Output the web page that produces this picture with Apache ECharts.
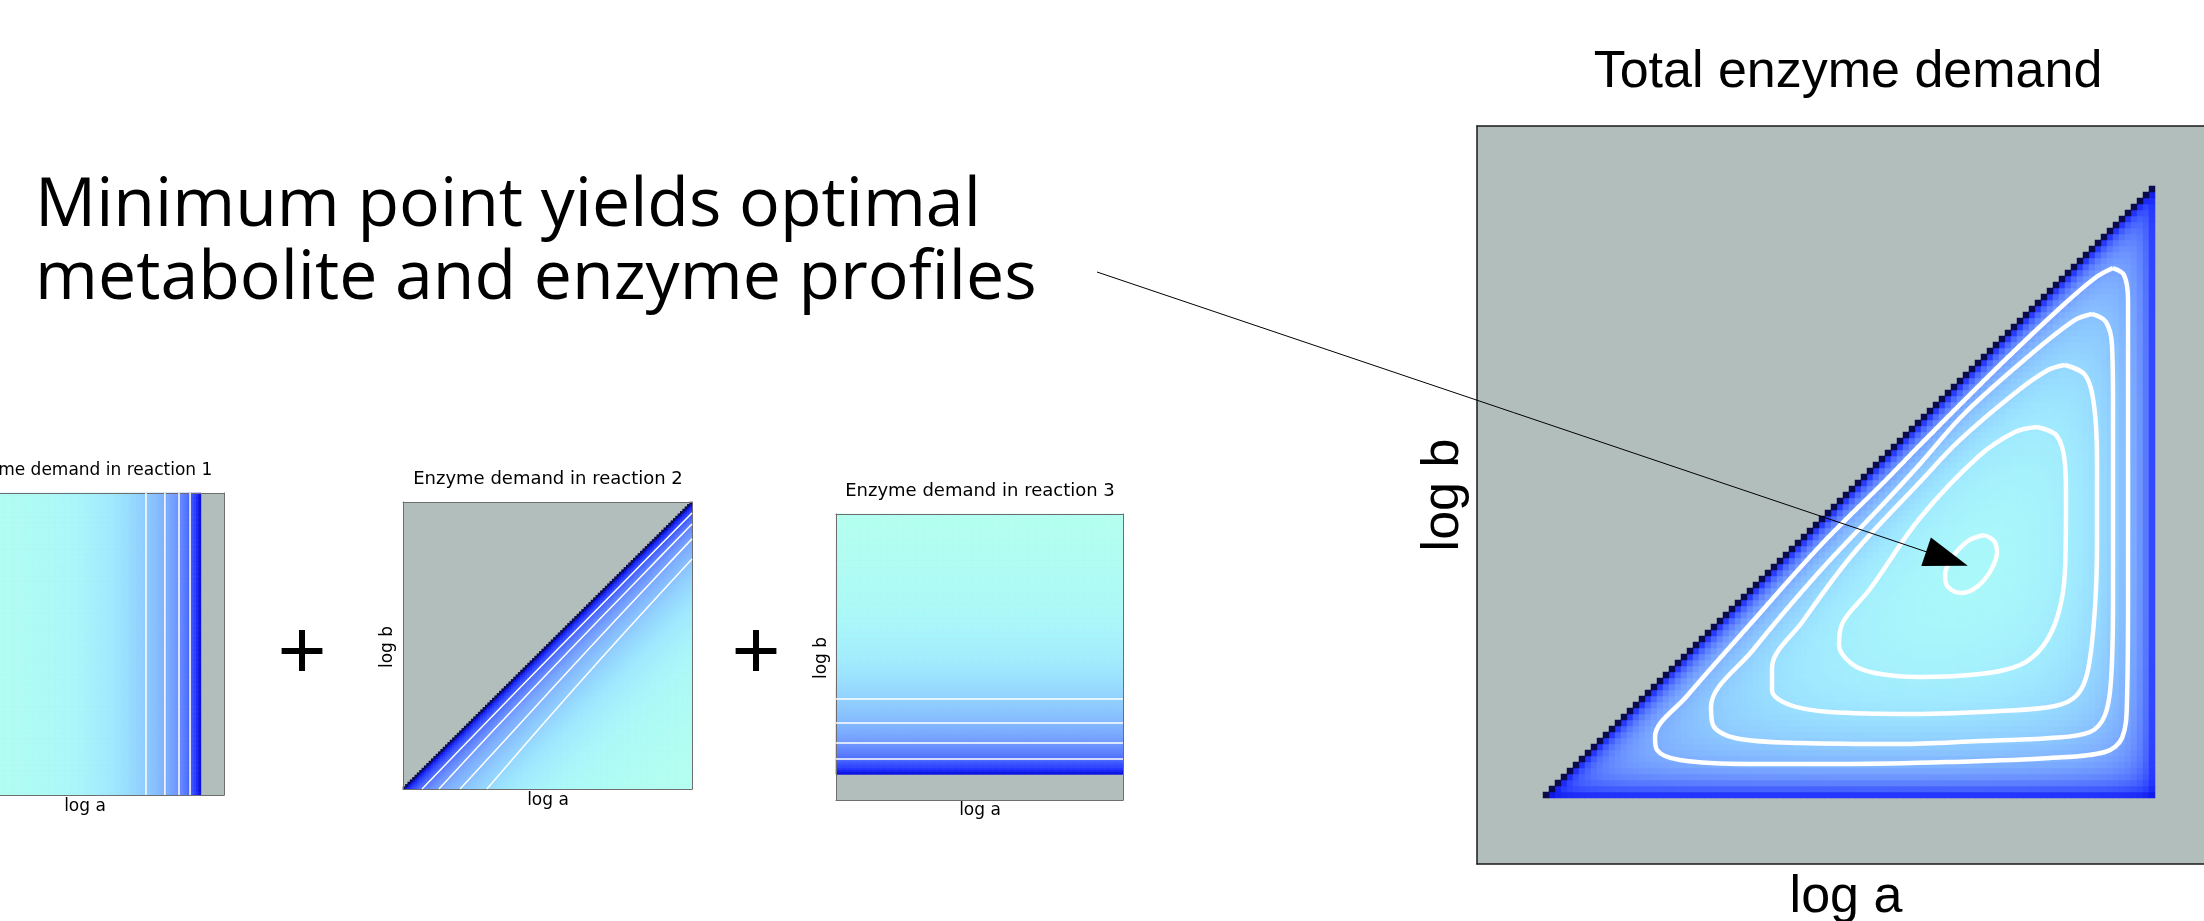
<!DOCTYPE html>
<html><head><meta charset="utf-8">
<script src="https://cdn.jsdelivr.net/npm/echarts@6/dist/echarts.min.js"></script>
<style>html,body{margin:0;padding:0;background:#fff;}#chart{width:2204px;height:921px;}</style>
</head><body><div id="chart"></div>
<script>
// ---------------- data ----------------
const GRID_N = 123;          // cells along log a and log b
const A_LIMIT = 113;         // first infeasible log-a column (reaction 1 equilibrium)
const B_LIMIT = 11;          // first feasible log-b row (reaction 3 equilibrium)

// enzyme demand of reaction 1 vs distance (cells) from the a limit, d = 1..113
const reaction1Demand = [
14.093,7.577,5.401,4.310,3.652,3.210,2.893,2.653,2.466,2.314,
2.189,2.085,1.996,1.919,1.852,1.793,1.740,1.693,1.651,1.612,
1.577,1.546,1.517,1.489,1.465,1.441,1.420,1.401,1.382,1.365,
1.349,1.334,1.320,1.306,1.294,1.282,1.271,1.260,1.249,1.239,
1.231,1.222,1.214,1.206,1.198,1.191,1.185,1.177,1.172,1.166,
1.161,1.155,1.150,1.145,1.140,1.135,1.131,1.127,1.122,1.118,
1.114,1.111,1.107,1.104,1.101,1.097,1.095,1.091,1.089,1.086,
1.083,1.081,1.079,1.076,1.073,1.071,1.070,1.067,1.065,1.063,
1.061,1.060,1.058,1.056,1.054,1.052,1.051,1.050,1.048,1.047,
1.045,1.044,1.043,1.042,1.041,1.040,1.039,1.038,1.037,1.035,
1.034,1.034,1.033,1.032,1.031,1.030,1.029,1.028,1.028,1.027,
1.026,1.025,1.025];

// enzyme demand of reaction 2 vs distance (cells) below the diagonal, d = 0..122
const reaction2Demand = [60,
17.09,9.08,6.41,5.06,4.256,3.714,3.326,3.032,2.804,2.619,
2.467,2.340,2.232,2.138,2.056,1.984,1.920,1.864,1.812,1.766,
1.723,1.684,1.649,1.616,1.586,1.558,1.533,1.508,1.486,1.464,
1.444,1.427,1.409,1.393,1.376,1.362,1.348,1.335,1.322,1.310,
1.299,1.288,1.278,1.268,1.259,1.250,1.241,1.233,1.225,1.218,
1.211,1.204,1.198,1.191,1.185,1.179,1.173,1.168,1.163,1.158,
1.152,1.148,1.144,1.140,1.135,1.131,1.127,1.124,1.121,1.117,
1.114,1.110,1.107,1.104,1.101,1.099,1.095,1.093,1.090,1.088,
1.085,1.083,1.081,1.079,1.076,1.075,1.073,1.070,1.069,1.067,
1.064,1.063,1.061,1.060,1.059,1.056,1.055,1.054,1.052,1.051,
1.049,1.048,1.046,1.045,1.044,1.043,1.042,1.041,1.040,1.039,
1.038,1.037,1.037,1.036,1.035,1.034,1.033,1.032,1.032,1.031,
1.030,1.029];

// enzyme demand of reaction 3 vs distance (cells) above the b limit, d = 1..112
const reaction3Demand = [
19.10,10.08,7.076,5.567,4.661,4.052,3.618,3.289,3.032,2.826,
2.657,2.514,2.393,2.289,2.199,2.118,2.047,1.984,1.927,1.875,
1.828,1.786,1.746,1.710,1.676,1.645,1.616,1.590,1.565,1.541,
1.519,1.497,1.478,1.460,1.442,1.426,1.410,1.396,1.381,1.368,
1.355,1.343,1.332,1.320,1.310,1.300,1.290,1.281,1.272,1.263,
1.255,1.248,1.241,1.233,1.226,1.220,1.213,1.206,1.201,1.195,
1.190,1.184,1.179,1.174,1.169,1.164,1.160,1.155,1.151,1.148,
1.144,1.140,1.136,1.133,1.129,1.126,1.122,1.119,1.117,1.113,
1.110,1.107,1.105,1.102,1.100,1.097,1.095,1.092,1.090,1.087,
1.085,1.084,1.081,1.079,1.078,1.075,1.074,1.072,1.070,1.068,
1.067,1.065,1.064,1.063,1.060,1.059,1.058,1.057,1.055,1.054,
1.053,1.052];

// contour lines (cell units: [log a, log b])
const reaction1Contours = [89.2, 97.4, 103.5, 108.3];
const reaction3Contours = [43.4, 33.1, 24.5, 17.6];
const reaction2Contours = [
  [[8.1,0],[35,28.1],[65,59],[95,89.7],[123,118.3]],
  [[15.3,0],[40,26.8],[70,58.5],[100,89.7],[123,113.6]],
  [[24.3,0],[50,28.2],[80,61.1],[105,88],[123,107.2]],
  [[35.7,0],[60,28.3],[85,56.7],[105,78.9],[123,98.6]]
];
const totalContour1 = [[84.5,54.83],[86.17,53.83],[86.67,52.0],[85.67,49.0],[83.5,46.33],[80.83,45.17],[78.5,46.17],[78.0,48.17],[79.17,51.0],[81.83,53.83],[84.5,54.83]];
const totalContour2 = [[93.33,72.83],[96.67,71.33],[98.0,66.67],[98.17,60.67],[98.0,48.83],[96.83,41.5],[94.33,36.33],[90.5,33.17],[83.83,31.67],[73.83,31.17],[66.33,31.83],[62.5,33.33],[60.33,36.5],[61.0,40.33],[65.5,45.83],[73.83,57.67],[83.67,68.0],[89.67,72.0],[93.33,72.83]];
const totalContour3 = [[98.0,83.17],[101.33,81.5],[102.83,76.5],[103.33,67.33],[103.33,54.0],[103.0,42.83],[101.83,32.33],[100.0,28.17],[96.33,26.33],[87.17,25.5],[72.67,25.0],[58.83,25.33],[52.17,26.5],[49.17,29.0],[49.17,32.67],[54.33,40.5],[62.67,51.67],[73.83,63.67],[80.5,70.67],[89.67,78.5],[95.17,82.33],[98.0,83.17]];
const totalContour4 = [[102.5,91.67],[104.83,90.33],[105.83,86.5],[106.0,77.33],[106.0,60.67],[106.0,44.0],[105.67,30.67],[104.67,24.83],[102.17,22.0],[95.5,21.0],[83.83,20.5],[70.5,20.0],[53.83,20.17],[43.0,21.0],[39.33,23.17],[39.0,26.17],[46.0,35.67],[57.17,48.83],[68.33,60.67],[73.83,66.67],[81.17,75.0],[92.17,84.83],[99.67,90.67],[102.5,91.67]];
const totalContour5 = [[106.0,99.33],[107.83,98.17],[108.5,94.0],[108.5,77.33],[108.5,60.67],[108.5,44.0],[108.33,27.33],[107.5,21.0],[104.67,18.67],[95.5,17.67],[78.83,17.0],[62.17,16.67],[45.5,16.67],[33.83,17.33],[30.0,19.0],[29.67,21.17],[35.0,28.0],[46.0,40.5],[57.17,53.0],[68.33,64.17],[73.83,69.83],[87.17,83.17],[97.17,92.67],[103.0,97.67],[106.0,99.33]];
const optimumPoint = [81.8, 49.7];

const panelTitles = ['Enzyme demand in reaction 1','Enzyme demand in reaction 2','Enzyme demand in reaction 3','Total enzyme demand'];
const axisNames = ['log a','log b'];
const headline = ['Minimum point yields optimal','metabolite and enzyme profiles'];

// ---------------- style ----------------
const GRAY = '#b2bebb';
const NAVY = '#0a0a4e';
const PALETTE = ['#0a10e0','#2436ff','#3d58ff','#5576ff','#6a90ff','#7aa8ff','#86bdff','#92d2ff','#9fe8ff','#aaf8fa','#b4fff0'];
const grids = [
  {left:-60, top:493, width:284, height:302},
  {left:403, top:502, width:289, height:287},
  {left:836, top:514, width:287, height:286},
  {left:1477, top:126, width:738, height:738}
];

// ---------------- build cells ----------------
const cellIndex = Array.from({length: GRID_N}, (_, k) => k);
const cells1 = [], cells2 = [], diag2 = [], cells3 = [], cellsT = [], diagT = [];
for (let i = 0; i < A_LIMIT; i++) for (let j = 0; j < GRID_N; j++)
  cells1.push([i, j, 1 / reaction1Demand[A_LIMIT - 1 - i]]);
for (let j = 0; j < GRID_N; j++) for (let i = j; i < GRID_N; i++)
  (i === j ? diag2 : cells2).push([i, j, 1 / reaction2Demand[i - j]]);
for (let j = B_LIMIT; j < GRID_N; j++) for (let i = 0; i < GRID_N; i++)
  cells3.push([i, j, 1 / reaction3Demand[j - B_LIMIT]]);
for (let j = B_LIMIT; j < A_LIMIT; j++) for (let i = j; i < A_LIMIT; i++) {
  const total = reaction1Demand[A_LIMIT - 1 - i] + reaction2Demand[i - j] + reaction3Demand[j - B_LIMIT];
  (i === j ? diagT : cellsT).push([i, j, 1 / total]);
}

const xAxes = [], yAxes = [];
grids.forEach((g, k) => {
  const lineStyle = {color: k === 3 ? '#1a1a1a' : '#6e6e6e', width: k === 3 ? 1.5 : 1};
  const common = {axisTick:{show:false}, axisLabel:{show:false}, splitLine:{show:false}, z:6};
  xAxes.push(Object.assign({type:'category', gridIndex:k, data:cellIndex, position:'bottom', axisLine:{show:true,onZero:false,lineStyle}}, common));
  xAxes.push(Object.assign({type:'value', gridIndex:k, min:0, max:GRID_N, position:'top', axisLine:{show:true,onZero:false,lineStyle}}, common));
  yAxes.push(Object.assign({type:'category', gridIndex:k, data:cellIndex, position:'left', axisLine:{show:true,onZero:false,lineStyle}}, common));
  yAxes.push(Object.assign({type:'value', gridIndex:k, min:0, max:GRID_N, position:'right', axisLine:{show:true,onZero:false,lineStyle}}, common));
});

function heat(k, data) {
  return {type:'heatmap', xAxisIndex:2*k, yAxisIndex:2*k, data, progressive:0, silent:true,
    animation:false, emphasis:{disabled:true}, itemStyle:{borderWidth:0}, z:2};
}
function contour(k, data, width) {
  return {type:'line', xAxisIndex:2*k+1, yAxisIndex:2*k+1, data, smooth:0.35, symbol:'none',
    silent:true, animation:false, lineStyle:{color:'#ffffff', width}, z:8};
}
// series 0..5 are heatmaps
const series = [heat(0, cells1), heat(1, cells2), heat(2, cells3), heat(3, cellsT), heat(1, diag2), heat(3, diagT)];
series[4].z = 3; series[5].z = 3;
reaction1Contours.forEach(a => series.push(contour(0, [[a,0],[a,GRID_N]], 1.5)));
reaction2Contours.forEach(c => series.push(contour(1, c, 1.5)));
reaction3Contours.forEach(b => series.push(contour(2, [[0,b],[GRID_N,b]], 1.5)));
[totalContour1,totalContour2,totalContour3,totalContour4,totalContour5].forEach(c => series.push(contour(3, c, 4.5)));

function vm(idx, min, max, colors) {
  return {type:'continuous', show:false, seriesIndex:idx, dimension:2, min, max,
    inRange:{color:colors || PALETTE}};
}

const chart = echarts.init(document.getElementById('chart'), null, {renderer:'canvas'});
chart.setOption({
  backgroundColor:'#ffffff',
  animation:false,
  grid: grids.map(g => Object.assign({show:true, backgroundColor:GRAY, borderWidth:0, containLabel:false, outerBoundsMode:'none'}, g)),
  xAxis: xAxes, yAxis: yAxes,
  visualMap: [vm(0, 0.068, 0.976), vm(1, 0.056, 0.972), vm(2, 0.050, 0.951), vm(3, 0.022, 0.2665),
              vm([4, 5], 0, 1, [NAVY, NAVY])],
  series
});

function txt(text, x, y, size, family, opts) {
  return Object.assign({type:'text', x, y, z:50, silent:true,
    style:{text, fontSize:size, fontFamily:family, fill:'#000', align:'center', verticalAlign:'middle'}}, opts || {});
}
function leftTxt(text, x, y, size, family) {
  return {type:'text', x, y, z:50, silent:true,
    style:{text, fontSize:size, fontFamily:family, fill:'#000', align:'left', verticalAlign:'middle'}};
}
const small = 'DejaVu Sans';
const big = 'Liberation Sans, Arial, sans-serif';
const graphics = [
  leftTxt(headline[0], 35, 207, 68, 'Open Sans'),
  leftTxt(headline[1], 35, 280, 68, 'Open Sans'),
  txt(panelTitles[0], 85, 471, 17, small),
  txt(panelTitles[1], 548, 479, 18, small),
  txt(panelTitles[2], 980, 491, 18, small),
  txt(panelTitles[3], 1848, 73, 52, big),
  txt(axisNames[0], 85, 807, 17, small),
  txt(axisNames[0], 548, 801, 17, small),
  txt(axisNames[0], 980, 811, 17, small),
  txt(axisNames[0], 1846, 898, 52, big),
  txt(axisNames[1], -75, 644, 17, small, {rotation:Math.PI/2}),
  txt(axisNames[1], 388, 647, 17, small, {rotation:Math.PI/2}),
  txt(axisNames[1], 822, 658, 17, small, {rotation:Math.PI/2}),
  txt(axisNames[1], 1444, 495, 52, big, {rotation:Math.PI/2}),
  txt('+', 302, 655, 84, big),
  txt('+', 756, 655, 84, big)
];
// arrow from the headline to the optimum of the total demand
const tip = chart.convertToPixel({xAxisIndex:7, yAxisIndex:7}, optimumPoint);
const start = [1097, 272];
const dx = tip[0] - start[0], dy = tip[1] - start[1], len = Math.hypot(dx, dy);
const ux = dx / len, uy = dy / len, headLen = 44, headHalf = 15;
const bx = tip[0] - ux * headLen, by = tip[1] - uy * headLen;
graphics.push({type:'line', z:60, silent:true, shape:{x1:start[0], y1:start[1], x2:bx + ux*4, y2:by + uy*4}, style:{stroke:'#000', lineWidth:1}});
graphics.push({type:'polygon', z:61, silent:true, shape:{points:[[tip[0],tip[1]],[bx - uy*headHalf, by + ux*headHalf],[bx + uy*headHalf, by - ux*headHalf]]}, style:{fill:'#000'}});
chart.setOption({graphic: graphics});
</script></body></html>
